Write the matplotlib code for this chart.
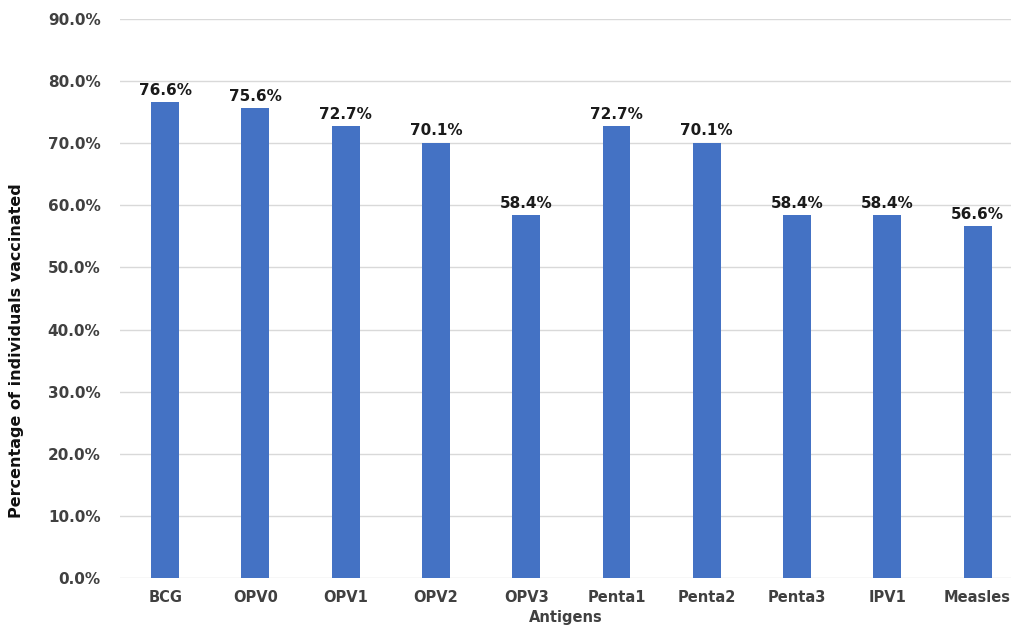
import matplotlib
matplotlib.use("Agg")
import matplotlib.pyplot as plt
from matplotlib.ticker import FuncFormatter

antigens = ["BCG", "OPV0", "OPV1", "OPV2", "OPV3", "Penta1", "Penta2", "Penta3", "IPV1", "Measles"]
coverage = [76.6, 75.6, 72.7, 70.1, 58.4, 72.7, 70.1, 58.4, 58.4, 56.6]

BAR = "#4472C4"; INK = "#404040"; GRID = "#d9d9d9"
plt.rcParams.update({"font.family": "DejaVu Sans", "font.weight": "bold"})

fig = plt.figure(figsize=(10.11, 6.32), dpi=100)
ax = fig.add_axes([120 / 1011, 54 / 632, 891 / 1011, 559 / 632])

x = range(len(antigens))
ax.bar(x, coverage, width=0.31, color=BAR, zorder=3)
for i, v in zip(x, coverage):
    ax.annotate(f"{v:.1f}%", (i, v), xytext=(0, 3), textcoords="offset points",
                ha="center", va="bottom", fontsize=11, fontweight="bold", color="#1a1a1a")

ax.set_ylim(0, 90)
ax.set_xlim(-0.5, 9.37)
ax.set_yticks(range(0, 91, 10))
ax.yaxis.set_major_formatter(FuncFormatter(lambda v, _: f"{v:.1f}%"))
ax.set_xticks(list(x))
ax.set_xticklabels(antigens)
ax.tick_params(axis="x", length=0, labelsize=10.5, colors=INK, pad=9)
ax.tick_params(axis="y", length=0, labelsize=11, colors=INK, pad=14)
ax.grid(axis="y", color=GRID, lw=1.0, zorder=0)
for s in ax.spines.values():
    s.set_visible(False)

ax.set_xlabel("Antigens", fontsize=10.5, fontweight="bold", color=INK, labelpad=3)
fig.text(17 / 1011, 0.445, "Percentage of individuals vaccinated", rotation=90,
         ha="center", va="center", fontsize=11.5, fontweight="bold", color="#111111")

fig.savefig("out.png", dpi=100)
